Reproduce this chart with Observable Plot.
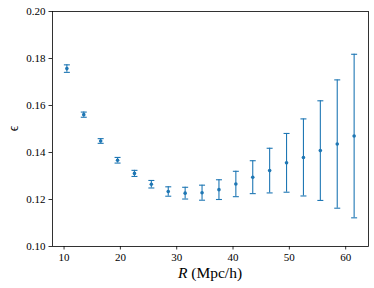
<!DOCTYPE html>
<html>
<head>
<meta charset="utf-8">
<script src="https://cdn.jsdelivr.net/npm/d3@7"></script>
<script src="https://cdn.jsdelivr.net/npm/@observablehq/plot@0.6"></script>
<style>
  html, body { margin: 0; padding: 0; background: #fff; }
  #chart { width: 374px; height: 288px; }
  #chart svg text { font-family: "Liberation Serif", "Times New Roman", serif !important; }
</style>
</head>
<body>
<div id="chart"></div>
<script>
const R = [10.5, 13.5, 16.5, 19.5, 22.5, 25.5, 28.5, 31.5, 34.5, 37.5, 40.5, 43.5, 46.5, 49.5, 52.5, 55.5, 58.5, 61.5];
const eps = [0.1757, 0.1561, 0.1449, 0.1367, 0.1311, 0.1265, 0.1234, 0.1227, 0.1229, 0.1242, 0.1266, 0.1295, 0.1323, 0.1356, 0.1379, 0.1408, 0.1436, 0.1470];
const err = [0.0016, 0.0011, 0.0010, 0.0012, 0.0013, 0.0016, 0.0020, 0.0025, 0.0032, 0.0042, 0.0054, 0.0070, 0.0095, 0.0125, 0.0164, 0.0212, 0.0273, 0.0348];
const xTicks = [10, 20, 30, 40, 50, 60];
const yTicks = [0.10, 0.12, 0.14, 0.16, 0.18, 0.20];

const data = R.map((r, i) => ({R: r, eps: eps[i], lo: eps[i] - err[i], hi: eps[i] + err[i]}));

const blue = "#1f77b4";
const cap = {
  draw(context, size) {
    const w = Math.sqrt(size / Math.PI);
    context.moveTo(-w, 0);
    context.lineTo(w, 0);
  }
};

const chart = Plot.plot({
  width: 374,
  height: 288,
  marginLeft: 52,
  marginRight: 6,
  marginTop: 11,
  marginBottom: 42,
  style: "font-family: 'Liberation Serif', serif; font-size: 11px; color: #000; background: #fff;",
  x: {domain: [7.95, 64.05]},
  y: {domain: [0.10, 0.20]},
  marks: [
    Plot.ruleX(data, {x: "R", y1: "lo", y2: "hi", stroke: blue, strokeWidth: 1.1}),
    Plot.dot(data, {x: "R", y: "lo", symbol: cap, r: 3, stroke: blue, fill: "none", strokeWidth: 1.1}),
    Plot.dot(data, {x: "R", y: "hi", symbol: cap, r: 3, stroke: blue, fill: "none", strokeWidth: 1.1}),
    Plot.dot(data, {x: "R", y: "eps", r: 1.8, fill: blue, stroke: "none"}),
    Plot.axisX({ticks: xTicks, tickSize: 3.5, tickPadding: 3.5, label: null, stroke: "#000", strokeWidth: 0.8, fill: "#000", fontSize: 11}),
    Plot.axisY({ticks: yTicks, tickFormat: d3.format(".2f"), tickSize: 3.5, tickPadding: 3.5, label: null, stroke: "#000", strokeWidth: 0.8, fill: "#000", fontSize: 11}),
    Plot.frame({stroke: "#000", strokeWidth: 0.8})
  ]
});

const svg = d3.select(chart);
const xl = svg.append("text")
  .attr("x", (52 + 368) / 2)
  .attr("y", 277.5)
  .attr("text-anchor", "middle")
  .attr("font-size", "15.5px")
  .attr("fill", "#000");
xl.append("tspan").attr("font-style", "italic").text("R");
xl.append("tspan").text(" (Mpc/h)");

svg.append("text")
  .attr("transform", "translate(18,128.5) rotate(-90)")
  .attr("text-anchor", "middle")
  .attr("font-size", "14px")
  .attr("fill", "#000")
  .text("ϵ");

document.getElementById("chart").appendChild(chart);
</script>
</body>
</html>
